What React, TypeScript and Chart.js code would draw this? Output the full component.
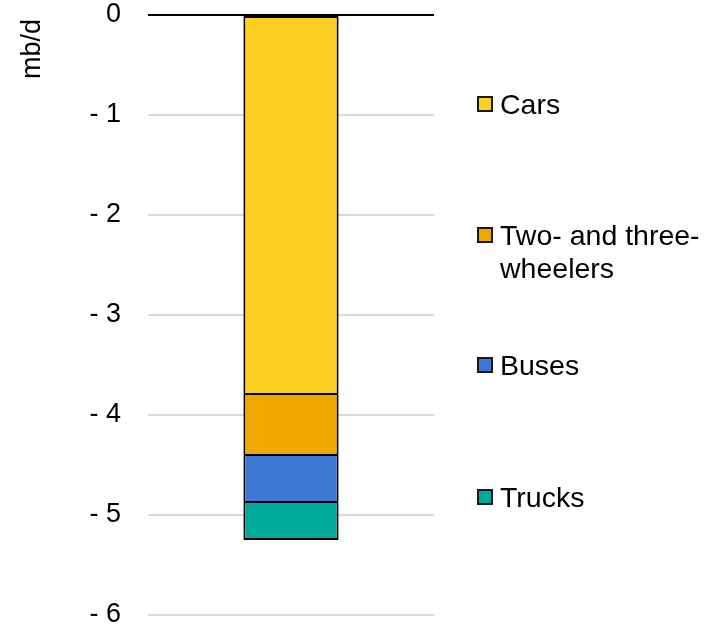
import React, { useEffect, useRef } from "react";
import { Chart, registerables } from "chart.js";

Chart.register(...registerables);

const categories = ["Total"];
const seriesNames = ["Cars", "Two- and three-wheelers", "Buses", "Trucks"];
const carsValues = [-3.79];
const twoThreeValues = [-0.61];
const busesValues = [-0.47];
const trucksValues = [-0.38];
const seriesColors = ["#FCCF22", "#EFA800", "#3D77D3", "#00AA9B"];
const yTickValues = [0, -1, -2, -3, -4, -5, -6];
const yTitle = "mb/d";

const FONT = "'Liberation Sans', Arial, sans-serif";

export default function App() {
  const canvasRef = useRef<HTMLCanvasElement | null>(null);

  useEffect(() => {
    document.body.style.margin = "0";
    const canvas = canvasRef.current;
    if (!canvas) return;
    const seriesValues = [carsValues, twoThreeValues, busesValues, trucksValues];
    const last = seriesNames.length - 1;
    const chart = new Chart(canvas, {
      type: "bar",
      data: {
        labels: categories,
        datasets: seriesNames.map((name, i) => ({
          label: name,
          data: seriesValues[i],
          backgroundColor: seriesColors[i],
          borderColor: "#000000",
          borderWidth: { top: i === 0 ? 2 : 1, bottom: i === last ? 2 : 1, left: 2, right: 2 },
          borderSkipped: false,
          categoryPercentage: 1,
          barPercentage: 0.333,
        })),
      },
      options: {
        animation: false,
        responsive: false,
        maintainAspectRatio: false,
        layout: { padding: { left: 0, top: 15, right: 282, bottom: 12 } },
        plugins: { legend: { display: false }, tooltip: { enabled: false } },
        scales: {
          x: { stacked: true, display: false },
          y: {
            stacked: true,
            min: -6,
            max: 0,
            afterFit: (scale: any) => {
              scale.width = 148;
              scale.paddingTop = 0;
              scale.paddingBottom = 0;
            },
            afterBuildTicks: (scale: any) => {
              scale.ticks = yTickValues.map((v) => ({ value: v }));
            },
            border: { display: false },
            grid: {
              drawTicks: false,
              color: (ctx: any) => (ctx.tick && ctx.tick.value === 0 ? "#000000" : "#D9D9D9"),
              lineWidth: 2,
            },
            ticks: {
              padding: 27,
              color: "#000000",
              font: { family: FONT, size: 27 },
              callback: (v: any) => (Number(v) === 0 ? "0" : "- " + Math.abs(Number(v))),
            },
          },
        },
      },
    });
    return () => chart.destroy();
  }, []);

  const legendItems = [
    { name: "Cars", lines: ["Cars"], y: 104 },
    { name: "Two- and three-wheelers", lines: ["Two- and three-", "wheelers"], y: 235 },
    { name: "Buses", lines: ["Buses"], y: 365 },
    { name: "Trucks", lines: ["Trucks"], y: 497 },
  ];

  return (
    <div style={{ position: "absolute", left: 0, top: 0, width: 716, height: 627, background: "#fff", fontFamily: FONT }}>
      <canvas ref={canvasRef} width={716} height={627} style={{ position: "absolute", left: 0, top: 0, width: 716, height: 627 }} />
      <div
        style={{
          position: "absolute",
          left: 31,
          top: 49,
          transform: "translate(-50%, -50%) rotate(-90deg)",
          fontSize: 27,
          color: "#000",
          whiteSpace: "nowrap",
          lineHeight: "30px",
        }}
      >
        {yTitle}
      </div>
      {legendItems.map((item, i) => (
        <div key={item.name}>
          <div
            style={{
              position: "absolute",
              left: 477,
              top: item.y - 8,
              width: 12,
              height: 12,
              background: seriesColors[i],
              border: "2px solid #1a1a1a",
            }}
          />
          {item.lines.map((ln, j) => (
            <div
              key={j}
              style={{
                position: "absolute",
                left: 500,
                top: item.y - 16 + j * 33,
                fontSize: 28.5,
                lineHeight: "32px",
                color: "#000",
                whiteSpace: "nowrap",
              }}
            >
              {ln}
            </div>
          ))}
        </div>
      ))}
    </div>
  );
}
